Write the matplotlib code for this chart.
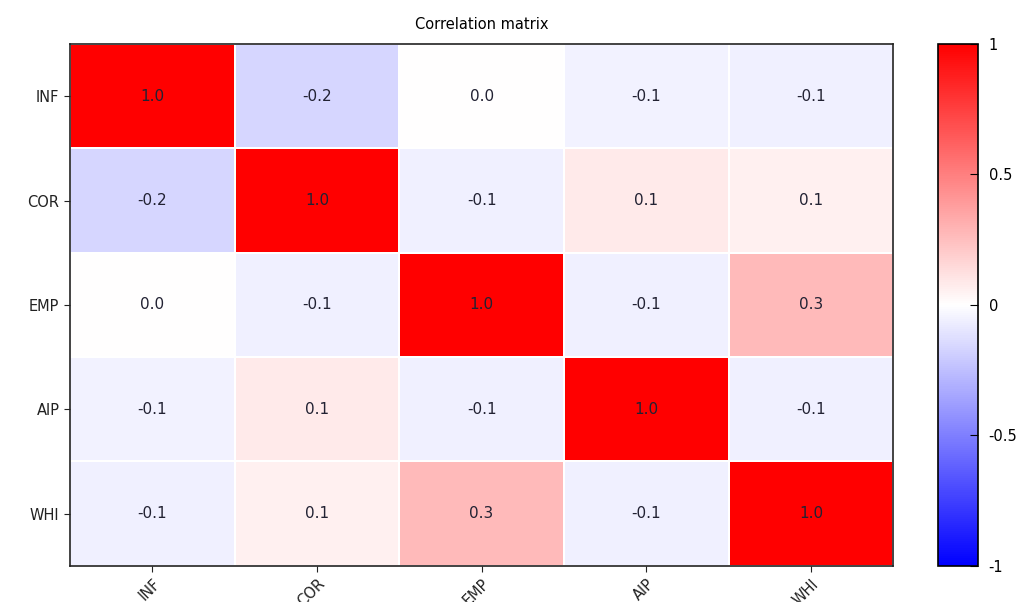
import numpy as np
import matplotlib
matplotlib.use("Agg")
import matplotlib.pyplot as plt

labels = ["INF", "COR", "EMP", "AIP", "WHI"]
corr = np.array([
    [1.00, -0.16, 0.00, -0.051, -0.06],
    [-0.16, 1.00, -0.06, 0.08, 0.055],
    [0.00, -0.06, 1.00, -0.06, 0.27],
    [-0.051, 0.08, -0.06, 1.00, -0.055],
    [-0.06, 0.055, 0.27, -0.055, 1.00],
])
cbar_ticks = [-1, -0.5, 0, 0.5, 1]
cbar_ticklabels = ["-1", "-0.5", "0", "0.5", "1"]

plt.rcParams['font.family'] = ['DejaVu Sans']
fig = plt.figure(figsize=(10.28, 6.02), dpi=100)
ax = fig.add_axes([0.068, 0.060, 0.801, 0.867])
cax = fig.add_axes([0.912, 0.060, 0.039, 0.867])

n = len(labels)
mesh = ax.pcolormesh(np.arange(n + 1), np.arange(n + 1), corr, cmap='bwr',
                     vmin=-1, vmax=1, edgecolors='white', linewidth=1.2)
ax.set_xlim(0, n)
ax.set_ylim(n, 0)
ax.set_xticks(np.arange(n) + 0.5)
ax.set_yticks(np.arange(n) + 0.5)
ax.set_xticklabels(labels, rotation=45, ha='right', rotation_mode='anchor')
ax.set_yticklabels(labels)
ax.tick_params(labelsize=10.5, length=4, colors='#222222')
for s in ax.spines.values():
    s.set_linewidth(1.2)
    s.set_color('#222222')

for i in range(n):
    for j in range(n):
        ax.text(j + 0.5, i + 0.5, f"{corr[i, j]:.1f}", ha='center', va='center',
                fontsize=11, color='#222233')

ax.set_title("Correlation matrix", fontsize=10.5, pad=11)

cb = fig.colorbar(mesh, cax=cax, ticks=cbar_ticks)
cb.ax.set_yticklabels(cbar_ticklabels)
cb.ax.tick_params(direction='in', labelsize=10.5, length=6, pad=8)
cb.outline.set_linewidth(1.2)

fig.savefig("out.png", dpi=100)
